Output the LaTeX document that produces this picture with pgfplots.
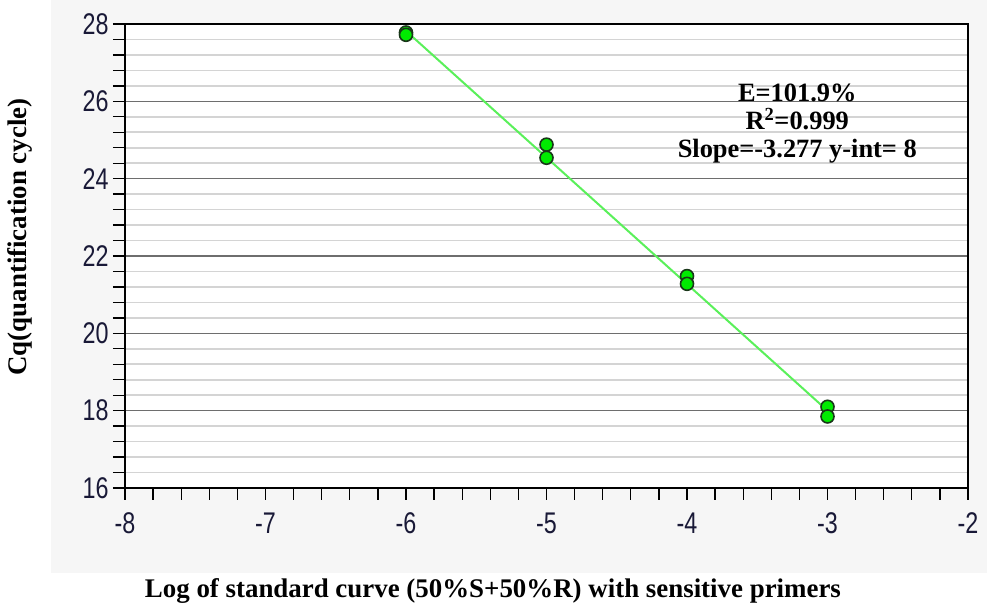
\documentclass[border=0pt]{standalone}
\usepackage{pgfplots}
\pgfplotsset{compat=1.18}
\usepackage{fontspec}
\setmainfont{Liberation Serif}
\newfontfamily\tickfont[FakeStretch=0.78]{Liberation Sans}
\definecolor{ptgreen}{RGB}{0,235,0}
\definecolor{ptedge}{RGB}{25,55,25}
\definecolor{linegreen}{RGB}{90,240,90}
\definecolor{tickcol}{RGB}{25,25,55}
\definecolor{panel}{RGB}{246,246,246}
\begin{document}
\begin{tikzpicture}[x=1bp,y=1bp]
\path[use as bounding box] (0,0) rectangle (987,613);
\fill[panel] (51,40) rectangle (987,613);
\begin{axis}[
  at={(125bp,125bp)}, anchor=south west,
  scale only axis, width=843bp, height=464bp,
  xmin=-8, xmax=-2, ymin=16, ymax=28,
  xtick={-8,-7,-6,-5,-4,-3,-2},
  ytick={16,18,20,22,24,26,28},
  minor x tick num=4, minor y tick num=4,
  xtick pos=bottom, ytick pos=left,
  tick align=outside,
  major tick length=12bp, minor tick length=12bp,
  every tick/.style={black, line width=1.3bp},
  axis line style={black, line width=1.6bp},
  axis background/.style={fill=white},
  ymajorgrids, yminorgrids,
  major grid style={draw=black!57, line width=1.6bp},
  minor grid style={draw=black!17, line width=1.7bp},
  /pgf/number format/assume math mode=true,
  tick label style={font=\tickfont\fontsize{30}{30}\selectfont, text=tickcol},
  yticklabel style={xshift=-1bp},
  xticklabel style={yshift=-9bp},
  xlabel={Log of standard curve (50\%S+50\%R) with sensitive primers},
  xlabel style={at={(axis description cs:0.4365,-0.222)}, anchor=center, font=\bfseries\fontsize{27}{27}\selectfont},
  ylabel={Cq(quantification cycle)},
  ylabel style={at={(axis description cs:-0.125,0.541)}, anchor=center, font=\bfseries\fontsize{27}{27}\selectfont},
  clip=false,
]
\addplot[no marks, color=linegreen, line width=2bp] coordinates {(-6,27.82) (-3,18.0)};
\addplot[only marks, mark=*, mark size=6.5bp, mark options={fill=ptgreen, draw=ptedge, line width=1.6bp}] coordinates {
(-6,27.78) (-6,27.72) (-5,24.88) (-5,24.54) (-4,21.48) (-4,21.28) (-3,18.1) (-3,17.85)};
\node[font=\bfseries\fontsize{26.5}{28}\selectfont, align=center] at (axis cs:-3.215,25.42) {E=101.9\%\\R\textsuperscript{2}=0.999\\Slope=-3.277 y-int= 8};
\end{axis}
\end{tikzpicture}
\end{document}
